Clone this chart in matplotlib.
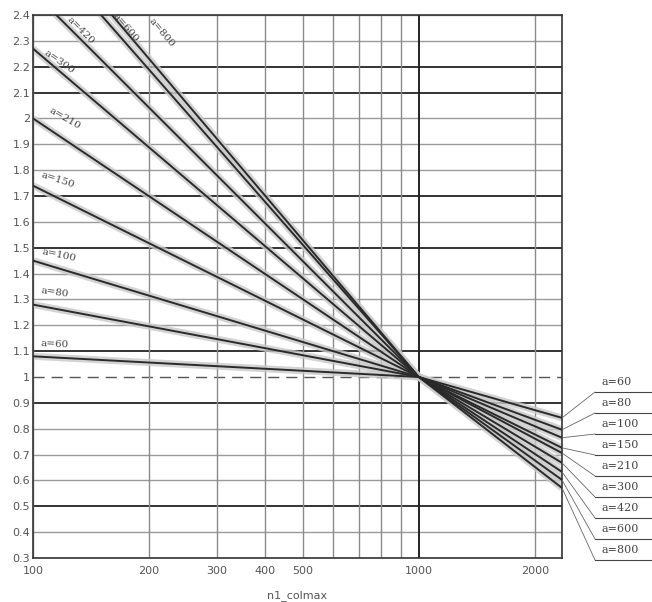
import matplotlib
matplotlib.use("Agg")
import matplotlib.pyplot as plt
from matplotlib.lines import Line2D
import numpy as np

# ---- data ----
series_labels = ["a=60", "a=80", "a=100", "a=150", "a=210", "a=300", "a=420", "a=600", "a=800"]
x_nodes = [100, 1000, 2350]
y_at_100 = [1.08, 1.28, 1.45, 1.74, 2.00, 2.27, 2.49, 2.70, 2.76]
y_at_1000 = [1.0] * 9
y_at_end = [0.842, 0.796, 0.765, 0.726, 0.706, 0.668, 0.633, 0.602, 0.571]

x_ticks = [100, 200, 300, 400, 500, 1000, 2000]
x_tick_labels = ["100", "200", "300", "400", "500", "1000", "2000"]
x_minor_grid = [600, 700, 800, 900]
y_ticks = [round(0.3 + 0.1 * i, 1) for i in range(22)]
y_tick_labels = ["%g" % v for v in y_ticks]
x_label = "n1_colmax"

# left label anchor positions (data coords) and rotations
left_label_pos = [(114, 1.125), (114, 1.325), (117, 1.47), (116, 1.76), (121, 2.0),
                  (117, 2.22), (133, 2.34), (174, 2.35), (216, 2.33)]
left_label_rot = [-3, -8, -12, -18, -30, -35, -45, -50, -50]

# ---- figure ----
W, H = 652, 602
fig = plt.figure(figsize=(W / 100, H / 100), dpi=100)
ax = fig.add_axes([33 / W, 1 - 558 / H, (562 - 33) / W, (558 - 15) / H])
ax.set_xscale("log")
ax.set_xlim(100, 2350)
ax.set_ylim(0.3, 2.4)

# grid lines (horizontal)
dark_levels = {2.2, 2.1, 1.7, 1.5, 1.1, 0.9, 0.5}
for v in y_ticks:
    if abs(v - 1.0) < 1e-9:
        ax.axhline(v, color="#555555", lw=1.0, ls=(0, (8, 5)), zorder=1)
    elif v in dark_levels:
        ax.axhline(v, color="#333333", lw=1.4, zorder=1)
    else:
        ax.axhline(v, color="#9a9a9a", lw=1.0, zorder=1)
# grid lines (vertical)
for v in x_ticks + x_minor_grid:
    if v == 1000:
        ax.axvline(v, color="#222222", lw=1.4, zorder=1)
    else:
        ax.axvline(v, color="#8a8a8a", lw=1.0, zorder=1)

# curves
for i, lab in enumerate(series_labels):
    ys = [y_at_100[i], y_at_1000[i], y_at_end[i]]
    ax.plot(x_nodes, ys, color="#c8c8c8", lw=5, solid_capstyle="butt", zorder=2, alpha=0.8)
    ax.plot(x_nodes, ys, color="#2a2a2a", lw=1.4, zorder=3)

# left labels
for (lx, ly), rot, lab in zip(left_label_pos, left_label_rot, series_labels):
    ax.text(lx, ly, lab, rotation=rot, ha="center", va="center", fontsize=7.5,
            color="#444444", family="DejaVu Serif", zorder=4)

ax.set_xticks(x_ticks)
ax.set_xticklabels(x_tick_labels)
ax.set_xticks(x_minor_grid, minor=True)
ax.xaxis.set_minor_formatter(plt.NullFormatter())
ax.set_yticks(y_ticks)
ax.set_yticklabels(y_tick_labels)
ax.tick_params(axis="both", which="both", length=0, labelsize=8, colors="#555555", pad=2)
ax.tick_params(axis="x", which="both", pad=6)
for s in ax.spines.values():
    s.set_color("#333333")
    s.set_linewidth(1.2)
ax.set_xlabel(x_label, fontsize=8, color="#555555", labelpad=10)

# right side labels with leader lines
for i, lab in enumerate(series_labels):
    y_under = 392 + 21 * i
    fy = H - y_under
    fig.add_artist(Line2D([595, W], [fy, fy], transform=None, color="#444444", lw=0.8))
    ax.annotate("", xy=(x_nodes[-1], y_at_end[i]), xycoords="data",
                xytext=(595, fy), textcoords="figure pixels",
                arrowprops=dict(arrowstyle="-", lw=0.6, color="#666666",
                                shrinkA=0, shrinkB=0),
                annotation_clip=False)
    fig.text(602 / W, (fy + 10) / H, lab, fontsize=8, family="DejaVu Serif",
             color="#444444", ha="left", va="center")

fig.savefig("out.png", dpi=100)
